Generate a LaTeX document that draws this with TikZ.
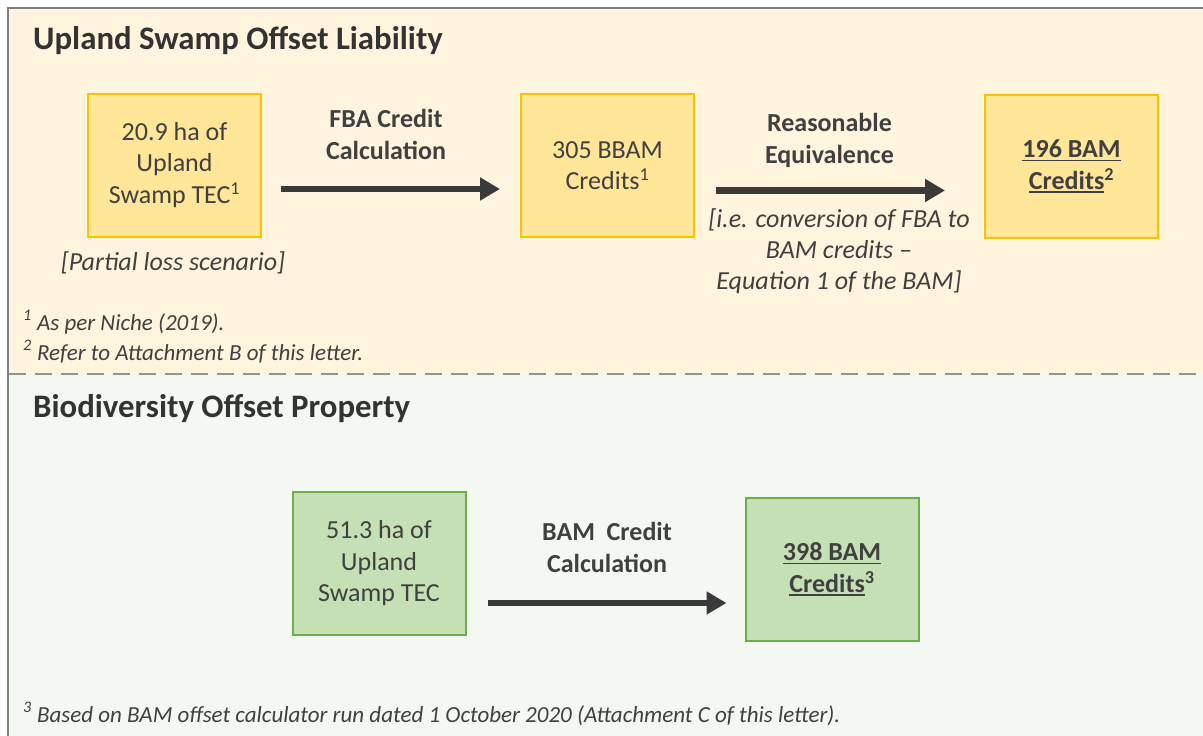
\documentclass[tikz,border=0pt]{standalone}
\usepackage{fontspec}
\setmainfont{Carlito}
\usetikzlibrary{arrows.meta}
\definecolor{txt}{HTML}{404040}
\definecolor{ttl}{HTML}{333333}
\definecolor{topbg}{HTML}{FFF4DD}
\definecolor{botbg}{HTML}{F4F8F2}
\definecolor{yfill}{HTML}{FFE699}
\definecolor{ydraw}{HTML}{FFC000}
\definecolor{gfill}{HTML}{C5E0B4}
\definecolor{gdraw}{HTML}{70AD47}
\definecolor{frame}{HTML}{808080}
\definecolor{arrc}{HTML}{3A3A3A}
\newcommand\ulx[1]{\setbox0\hbox{#1}\rlap{\rule[-3.5pt]{\wd0}{1.5pt}}\box0}
\tikzset{
  boxbase/.style={draw, line width=2pt, minimum width=173pt, minimum height=143pt,
    inner sep=0pt, align=center, text=txt, font=\fontsize{26}{31.5}\selectfont},
  ybox/.style={boxbase, fill=yfill, draw=ydraw},
  gbox/.style={boxbase, fill=gfill, draw=gdraw},
  lbl/.style={align=center, text=txt, inner sep=0pt, font=\fontsize{26}{32}\selectfont\bfseries},
  itl/.style={align=center, text=txt, inner sep=0pt, font=\fontsize{26}{31}\selectfont\itshape},
  title/.style={anchor=base west, inner sep=0pt, text=ttl, font=\fontsize{32.8}{38}\selectfont\bfseries},
  foot/.style={anchor=base west, inner sep=0pt, text=txt, font=\fontsize{23}{27}\selectfont\itshape},
  arr/.style={draw=arrc, line width=6.5pt, -{Triangle[length=20pt,width=22pt]}},
}
\begin{document}
\begin{tikzpicture}[x=1pt,y=-1pt]
\useasboundingbox (0,0) rectangle (1203,736);
\clip (0,0) rectangle (1203,736);
\fill[white] (0,0) rectangle (1203,736);
\fill[topbg] (8,8) rectangle (1220,374);
\fill[botbg] (8,374) rectangle (1220,760);
\draw[frame, line width=2pt] (8,760) -- (8,8) -- (1220,8);
\draw[frame!85, line width=2pt, dash pattern=on 17pt off 9pt] (9,374) -- (1220,374);

\node[title] (t1) at (33,49) {Upland Swamp Offset Liability};
\node[title] (t2) at (33,417) {Biodiversity Offset Property};

\node[ybox] (b1) at (174.5,165) {20.9 ha of\\Upland\\Swamp TEC\textsuperscript{1}};
\node[ybox] (b2) at (607.5,165.5) {305 BBAM\\Credits\textsuperscript{1}};
\node[ybox] (b3) at (1071.5,166.5) {\bfseries\ulx{196 BAM}\\\bfseries\ulx{Credits}\textsuperscript{2}};
\node[gbox] (b4) at (379,563.5) {51.3 ha of\\Upland\\Swamp TEC};
\node[gbox] (b5) at (832,569.5) {\bfseries\ulx{398 BAM}\\\bfseries\ulx{Credits}\textsuperscript{3}};

\node[lbl] (l1) at (386,134) {FBA Credit\\Calculation};
\node[lbl] (l2) at (829.5,140) {Reasonable\\Equivalence};
\node[lbl] (l3) at (607,547.5) {BAM~ Credit\\Calculation};
\node[itl] (i1) at (173,263) {[Partial loss scenario]};
\node[itl] (i2) at (839,251) {[i.e. conversion of FBA to\\BAM credits –\\Equation 1 of the BAM]};

\draw[arr] ([xshift=19pt,yshift=-24pt]b1.east) -- ([xshift=-20pt,yshift=-23.5pt]b2.west);
\draw[arr] ([xshift=20.5pt,yshift=-25pt]b2.east) -- ([xshift=-39pt,yshift=-24pt]b3.west);
\draw[arr] ([xshift=21.5pt,yshift=-39.5pt]b4.east) -- ([xshift=-18pt,yshift=-33.5pt]b5.west);

\node[foot] (f1) at (23,330) {\textsuperscript{1} As per Niche (2019).};
\node[foot] (f2) at (23,360) {\textsuperscript{2} Refer to Attachment B of this letter.};
\node[foot] (f3) at (23,722) {\textsuperscript{3} Based on BAM offset calculator run dated 1 October 2020 (Attachment C of this letter).};
\end{tikzpicture}
\end{document}
